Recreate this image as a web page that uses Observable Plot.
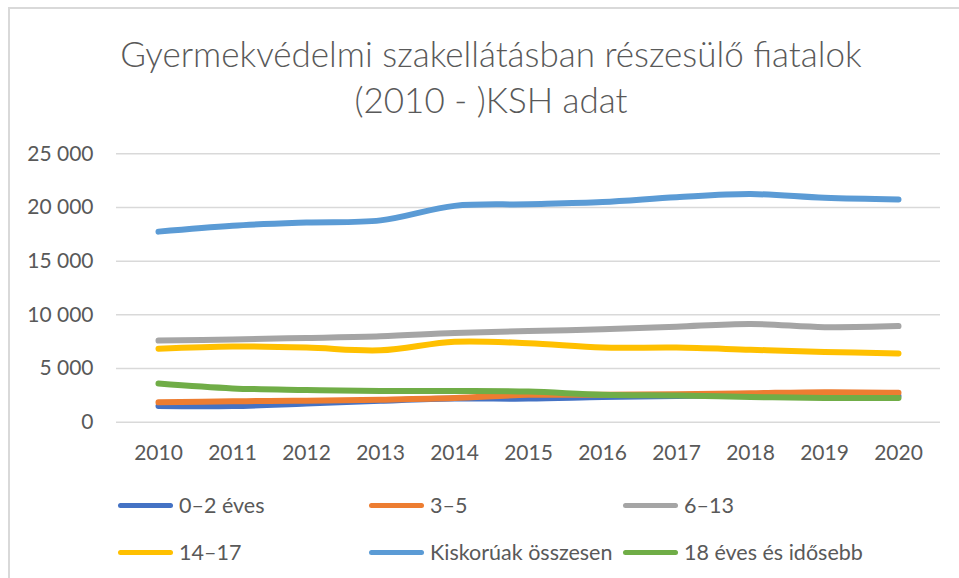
<!DOCTYPE html>
<html><head><meta charset="utf-8">
<script src="https://cdn.jsdelivr.net/npm/d3@7"></script>
<script src="https://cdn.jsdelivr.net/npm/@observablehq/plot@0.6"></script>
<style>
body{margin:0;background:#fff;width:959px;height:578px;overflow:hidden;position:relative;font-family:Lato,"Open Sans",sans-serif;color:#595959}
#frame{position:absolute;left:8px;top:7px;width:1000px;height:600px;border-left:2px solid #D9D9D9;border-top:2px solid #D9D9D9}
#title{position:absolute;left:0;width:982px;top:30px;text-align:center;font-size:35px;font-weight:300;line-height:46px;color:#595959}
#chart{position:absolute;left:0;top:130px}
#legend{position:absolute;left:0;top:480px;width:959px;height:95px}
.item{position:absolute;display:flex;align-items:center;font-size:21.5px;white-space:nowrap;transform:translateY(-50%)}
.sw{width:55px;height:5px;border-radius:3px;margin-right:6px}
</style></head><body>
<div id="frame"></div>
<div id="title">Gyermekvédelmi szakellátásban részesülő fiatalok<br>(2010 - )KSH adat</div>
<div id="chart"></div>
<div id="legend"></div>
<script>
const years = [2010, 2011, 2012, 2013, 2014, 2015, 2016, 2017, 2018, 2019, 2020];
const seriesNames = ["0–2 éves", "3–5", "6–13", "14–17", "Kiskorúak összesen", "18 éves és idősebb"];
const seriesColors = ["#4472C4", "#ED7D31", "#A5A5A5", "#FFC000", "#5B9BD5", "#70AD47"];
const age0_2   = [1500, 1500, 1750, 2000, 2200, 2200, 2350, 2450, 2500, 2480, 2450];
const age3_5   = [1850, 1950, 2000, 2100, 2250, 2550, 2550, 2600, 2700, 2800, 2750];
const age6_13  = [7600, 7700, 7850, 8000, 8300, 8500, 8650, 8900, 9150, 8850, 8950];
const age14_17 = [6850, 7050, 6950, 6700, 7500, 7350, 6950, 6950, 6750, 6550, 6400];
const total    = [17750, 18300, 18600, 18800, 20150, 20300, 20500, 20950, 21250, 20900, 20750];
const age18p   = [3600, 3150, 3000, 2900, 2900, 2850, 2550, 2480, 2350, 2250, 2250];
const yTicks = [0, 5000, 10000, 15000, 20000, 25000];

const seriesValues = [age0_2, age3_5, age6_13, age14_17, total, age18p];
const data = [];
seriesNames.forEach((s, i) => years.forEach((yr, j) => data.push({series: s, year: yr, value: seriesValues[i][j]})));

const loc = d3.formatLocale({decimal: ",", thousands: "\u00a0", grouping: [3], currency: ["", ""]});
const fmt = loc.format(",");
const font = "Lato, 'Open Sans', sans-serif";

const chart = Plot.plot({
  width: 959, height: 340,
  marginLeft: 116, marginRight: 19, marginTop: 23.3, marginBottom: 48.3,
  x: {type: "point", domain: years, padding: 0.5},
  y: {domain: [0, 25000]},
  color: {domain: seriesNames, range: seriesColors},
  style: {fontFamily: font, fontSize: "21px", color: "#595959", background: "transparent"},
  marks: [
    Plot.gridY(yTicks, {stroke: "#D9D9D9", strokeOpacity: 1, strokeWidth: 1.5}),
    Plot.axisX({tickSize: 0, tickPadding: 23, tickFormat: d => String(d), fill: "#595959", label: null, fontSize: 21}),
    Plot.axisY(yTicks, {tickSize: 0, tickPadding: 23, tickFormat: fmt, fill: "#595959", label: null, fontSize: 21}),
    Plot.line(data, {x: "year", y: "value", z: "series", stroke: "series", strokeWidth: 6, curve: "catmull-rom", strokeLinecap: "round", strokeLinejoin: "round"})
  ]
});
document.getElementById("chart").appendChild(chart);

const colX = [118, 369, 623];
const rowY = [25, 72];
const leg = document.getElementById("legend");
seriesNames.forEach((s, i) => {
  const it = document.createElement("div");
  it.className = "item";
  it.style.left = colX[i % 3] + "px";
  it.style.top = rowY[Math.floor(i / 3)] + "px";
  const sw = document.createElement("span");
  sw.className = "sw";
  sw.style.background = seriesColors[i];
  it.appendChild(sw);
  it.appendChild(document.createTextNode(s));
  leg.appendChild(it);
});
</script>
</body></html>
